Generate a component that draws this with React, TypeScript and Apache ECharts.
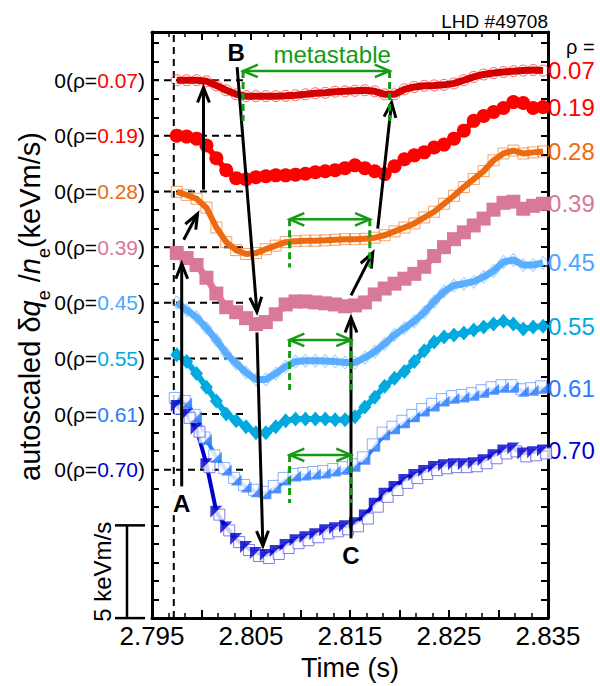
import React, { useEffect, useRef } from 'react';
import * as echarts from 'echarts';

const FONT = '"Liberation Sans", Arial, sans-serif';

// sample times (s)
const times = [2.7975, 2.7985, 2.7995, 2.8005, 2.8015, 2.8025, 2.8035, 2.8045, 2.8055, 2.8065,
  2.8075, 2.8085, 2.8095, 2.8105, 2.8115, 2.8125, 2.8135, 2.8145, 2.8155, 2.8165,
  2.8175, 2.8185, 2.8195, 2.8205, 2.8215, 2.8225, 2.8235, 2.8245, 2.8255, 2.8265,
  2.8275, 2.8285, 2.8295, 2.8305, 2.8315, 2.8325, 2.8335, 2.8345];

// autoscaled deviations (keVm/s) relative to each zero level
const dq007 = [0.0, 0.0, 0.0, -0.06, -0.28, -0.54, -0.76, -0.86, -0.86, -0.86, -0.86, -0.84, -0.81, -0.76, -0.70, -0.68, -0.62, -0.60, -0.57, -0.54, -0.60, -0.76, -0.76, -0.49, -0.36, -0.30, -0.28, -0.25, -0.17, 0.0, 0.18, 0.31, 0.39, 0.44, 0.49, 0.52, 0.55, 0.52];
const dq019 = [0.01, -0.04, -0.15, -0.52, -1.21, -1.85, -2.28, -2.34, -2.23, -2.18, -2.13, -2.13, -2.09, -2.04, -1.96, -1.91, -1.85, -1.74, -1.59, -1.74, -1.91, -2.06, -1.64, -1.26, -1.05, -0.89, -0.63, -0.47, -0.15, 0.28, 0.81, 1.07, 1.29, 1.50, 1.82, 1.77, 1.50, 1.55];
const dq028 = [-0.02, -0.18, -0.39, -0.87, -1.94, -2.73, -3.16, -3.37, -3.32, -3.11, -2.92, -2.73, -2.68, -2.65, -2.65, -2.63, -2.60, -2.57, -2.57, -2.55, -2.49, -2.36, -2.15, -1.94, -1.72, -1.40, -1.09, -0.66, -0.23, 0.24, 0.67, 1.10, 1.68, 2.05, 2.21, 2.05, 2.11, 2.16];
const dq039 = [-0.32, -0.59, -0.96, -1.65, -2.50, -3.24, -3.51, -3.83, -4.15, -4.04, -3.62, -3.09, -2.93, -2.93, -2.98, -3.03, -3.09, -3.19, -3.14, -2.98, -2.55, -2.23, -1.97, -1.70, -1.44, -1.06, -0.48, 0.00, 0.43, 0.80, 1.17, 1.54, 2.02, 2.39, 2.45, 2.07, 2.23, 2.34];
const dq045 = [0.02, -0.40, -0.78, -1.36, -2.00, -2.74, -3.27, -3.76, -4.13, -4.13, -3.81, -3.44, -3.17, -3.12, -3.12, -3.14, -3.17, -3.22, -3.22, -2.96, -2.64, -2.21, -1.73, -1.36, -0.99, -0.51, 0.07, 0.61, 0.93, 1.03, 1.14, 1.40, 1.72, 2.20, 2.31, 2.04, 2.04, 2.15];
const dq055 = [0.20, -0.17, -0.81, -1.55, -2.30, -2.99, -3.36, -3.68, -4.00, -4.00, -3.68, -3.36, -3.26, -3.26, -3.26, -3.26, -3.31, -3.31, -3.14, -2.62, -2.09, -1.50, -1.07, -0.70, -0.17, 0.41, 0.89, 1.16, 1.27, 1.37, 1.53, 1.69, 1.85, 2.01, 1.85, 1.59, 1.69, 1.74];
const dq061 = [0.76, 0.60, -0.15, -1.37, -2.33, -3.02, -3.55, -3.93, -4.19, -4.30, -3.98, -3.55, -3.34, -3.29, -3.23, -3.18, -3.07, -2.97, -2.81, -2.44, -1.74, -1.11, -0.79, -0.47, -0.15, 0.17, 0.44, 0.70, 0.86, 0.92, 1.02, 1.18, 1.34, 1.45, 1.45, 1.23, 1.29, 1.39];
const dq070 = [3.44, 2.96, 2.21, 0.30, -2.26, -3.11, -3.74, -4.17, -4.49, -4.60, -4.38, -4.06, -3.80, -3.64, -3.48, -3.27, -3.16, -3.05, -2.89, -2.47, -1.83, -1.30, -0.93, -0.55, -0.29, -0.07, 0.14, 0.24, 0.30, 0.30, 0.35, 0.51, 0.78, 1.04, 1.15, 0.88, 0.94, 1.04];

const rhoLabels = ['0.07', '0.19', '0.28', '0.39', '0.45', '0.55', '0.61', '0.70'];
const zeroLevels = [29, 26, 23, 20, 17, 14, 11, 8];
const labelColors = ['#FF0000', '#FF0000', '#EE6A10', '#D8789A', '#4DA6FF', '#00AADF', '#2B7BFF', '#0000CC'];

// annotation geometry in data units [time, autoscaled units]
const blackArrows = [
  [[2.7980, 7.1], [2.7980, 19.1]],
  [[2.7982, 20.4], [2.7996, 21.8]],
  [[2.8002, 23.1], [2.8002, 28.6]],
  [[2.8036, 29.7], [2.8056, 16.5]],
  [[2.8056, 15.4], [2.8062, 3.9]],
  [[2.8151, 4.3], [2.8151, 16.2]],
  [[2.8151, 17.4], [2.8173, 19.7]],
  [[2.8178, 21.0], [2.8192, 27.8]],
];
const greenSpans = [
  [2.8042, 2.8190, 29.5, 26.8],
  [2.8089, 2.8170, 21.5, 18.9],
  [2.8089, 2.8151, 15.0, 12.3],
  [2.8089, 2.8151, 8.8, 6.2],
];
const letterLabels = [
  ['A', 2.7980, 6.2],
  ['B', 2.8035, 30.5],
  ['C', 2.8151, 3.4],
];

const X_MIN = 2.795, X_MAX = 2.835, Y_MAX = 31.6;

function toData(vals: number[], zero: number) {
  return times.map((t, i) => [t, zero + vals[i]]);
}

function endLabel(i: number) {
  return { show: true, formatter: rhoLabels[i], color: labelColors[i], fontSize: 24, fontFamily: FONT, distance: 5 };
}

const GREEN = '#149A14';

export default function App() {
  const ref = useRef<HTMLDivElement>(null);
  useEffect(() => {
    document.body.style.margin = '0';
    const chart = echarts.init(ref.current!, null, { renderer: 'svg' });

    const richY: any = { k: { fontSize: 21, color: '#000', fontFamily: FONT } };
    labelColors.forEach((c, i) => { richY['c' + i] = { fontSize: 21, color: c, fontFamily: FONT }; });

    const xAxisBase = {
      type: 'value', min: X_MIN, max: X_MAX, interval: 0.005,
      axisLine: { show: true, onZero: false, lineStyle: { color: '#000', width: 3 } },
      axisTick: { show: true, inside: true, length: 8, lineStyle: { color: '#000', width: 2 } },
      minorTick: { show: true, splitNumber: 3, length: 5, lineStyle: { color: '#000', width: 1.5 } },
      splitLine: { show: false }, minorSplitLine: { show: false },
    };
    const yAxisBase = {
      type: 'value', min: 0, max: Y_MAX, interval: 1,
      axisLine: { show: true, onZero: false, lineStyle: { color: '#000', width: 3 } },
      axisTick: { show: true, inside: true, length: 7, lineStyle: { color: '#000', width: 2 } },
      splitLine: { show: false },
    };

    const series: any[] = [];
    // rho 0.07: open circles + thick dark red line
    series.push({ type: 'scatter', data: toData(dq007, zeroLevels[0]), symbol: 'circle', symbolSize: 11, z: 2,
      itemStyle: { color: 'rgba(255,255,255,0)', borderColor: '#FF3C3C', borderWidth: 1 } });
    series.push({ type: 'line', data: toData(dq007, zeroLevels[0]), showSymbol: false, symbol: 'none', z: 3,
      lineStyle: { color: '#D40000', width: 7 }, itemStyle: { color: '#D40000' }, endLabel: endLabel(0) });
    // rho 0.19: filled red circles
    series.push({ type: 'line', data: toData(dq019, zeroLevels[1]), symbol: 'circle', symbolSize: 14, showAllSymbol: true, z: 3,
      lineStyle: { color: '#FF0000', width: 6 }, itemStyle: { color: '#FF0000' }, endLabel: endLabel(1) });
    // rho 0.28: open orange squares + orange line
    series.push({ type: 'scatter', data: toData(dq028, zeroLevels[2]), symbol: 'rect', symbolSize: 11, z: 2,
      itemStyle: { color: 'rgba(255,255,255,0)', borderColor: '#F58A40', borderWidth: 1 } });
    series.push({ type: 'line', data: toData(dq028, zeroLevels[2]), showSymbol: false, symbol: 'none', z: 3,
      lineStyle: { color: '#EE6A10', width: 6 }, itemStyle: { color: '#EE6A10' }, endLabel: endLabel(2) });
    // rho 0.39: pink filled squares
    series.push({ type: 'line', data: toData(dq039, zeroLevels[3]), symbol: 'rect', symbolSize: 14, showAllSymbol: true, z: 3,
      lineStyle: { color: '#D8789A', width: 7 }, itemStyle: { color: '#D8789A' }, endLabel: endLabel(3) });
    // rho 0.45: open diamonds + light blue line
    series.push({ type: 'scatter', data: toData(dq045, zeroLevels[4]), symbol: 'diamond', symbolSize: [11, 13], z: 2,
      itemStyle: { color: 'rgba(255,255,255,0)', borderColor: '#86C6FF', borderWidth: 1 } });
    series.push({ type: 'line', data: toData(dq045, zeroLevels[4]), showSymbol: false, symbol: 'none', z: 3,
      lineStyle: { color: '#5AAEFF', width: 7 }, itemStyle: { color: '#5AAEFF' }, endLabel: endLabel(4) });
    // rho 0.55: cyan filled diamonds
    series.push({ type: 'line', data: toData(dq055, zeroLevels[5]), symbol: 'diamond', symbolSize: [13, 15], showAllSymbol: true, z: 3,
      lineStyle: { color: '#00AADF', width: 6 }, itemStyle: { color: '#00AADF' }, endLabel: endLabel(5) });
    // rho 0.61: open squares + lower-right filled triangles
    series.push({ type: 'line', data: toData(dq061, zeroLevels[6]), showSymbol: false, symbol: 'none', z: 2,
      lineStyle: { color: '#2B7BFF', width: 4 }, itemStyle: { color: '#2B7BFF' }, endLabel: endLabel(6) });
    series.push({ type: 'scatter', data: toData(dq061, zeroLevels[6]), symbol: 'rect', symbolSize: 11, symbolOffset: [-2, -2], z: 3,
      itemStyle: { color: '#FFFFFF', borderColor: '#6A9CFF', borderWidth: 1 } });
    series.push({ type: 'scatter', data: toData(dq061, zeroLevels[6]), symbol: 'path://M10 0 L10 10 L0 10 Z', symbolSize: 11, z: 4,
      itemStyle: { color: '#2B7BFF' } });
    // rho 0.70: open squares + upper-left filled triangles
    series.push({ type: 'line', data: toData(dq070, zeroLevels[7]), showSymbol: false, symbol: 'none', z: 2,
      lineStyle: { color: '#0000CC', width: 4 }, itemStyle: { color: '#0000CC' }, endLabel: endLabel(7) });
    series.push({ type: 'scatter', data: toData(dq070, zeroLevels[7]), symbol: 'rect', symbolSize: 11, symbolOffset: [3, 3], z: 3,
      itemStyle: { color: '#FFFFFF', borderColor: '#5C5CE8', borderWidth: 1 } });
    series.push({ type: 'scatter', data: toData(dq070, zeroLevels[7]), symbol: 'path://M0 0 L10 0 L0 10 Z', symbolSize: 12, z: 4,
      itemStyle: { color: '#0000CC' } });

    chart.setOption({
      animation: false,
      backgroundColor: '#FFFFFF',
      textStyle: { fontFamily: FONT },
      grid: { left: 152, right: 52, top: 32, bottom: 60, containLabel: false },
      xAxis: [
        { ...xAxisBase, position: 'bottom',
          axisLabel: { show: true, color: '#000', fontSize: 26, fontFamily: FONT, margin: 5,
            formatter: (v: number) => (Math.round((v - X_MIN) / 0.005) % 2 === 0 ? v.toFixed(3) : '') },
          name: 'Time (s)', nameLocation: 'middle', nameGap: 34,
          nameTextStyle: { color: '#000', fontSize: 27, fontFamily: FONT } },
        { ...xAxisBase, position: 'top', axisLabel: { show: false } },
      ],
      yAxis: [
        { ...yAxisBase, position: 'left',
          axisLabel: { show: true, margin: 7, rich: richY,
            formatter: (v: number) => {
              const idx = zeroLevels.findIndex((z) => Math.abs(z - v) < 1e-6);
              return idx < 0 ? '' : `{k|0(ρ=}{c${idx}|${rhoLabels[idx]}}{k|)}`;
            } } },
        { ...yAxisBase, position: 'right', axisLabel: { show: false } },
      ],
      series,
    });

    const P = (t: number, v: number) => chart.convertToPixel({ xAxisIndex: 0, yAxisIndex: 0 }, [t, v]) as number[];
    const g: any[] = [];

    const head = (tip: number[], from: number[], len: number, ang: number, color: string, w: number) => {
      const a = Math.atan2(tip[1] - from[1], tip[0] - from[0]);
      const p1 = [tip[0] - len * Math.cos(a - ang), tip[1] - len * Math.sin(a - ang)];
      const p2 = [tip[0] - len * Math.cos(a + ang), tip[1] - len * Math.sin(a + ang)];
      return { type: 'polyline', z: 20, shape: { points: [p1, tip, p2] }, style: { stroke: color, lineWidth: w, fill: 'none' } };
    };
    const seg = (a: number[], b: number[], color: string, w: number, dash: number[] | null, z: number) => ({
      type: 'line', z, shape: { x1: a[0], y1: a[1], x2: b[0], y2: b[1] },
      style: { stroke: color, lineWidth: w, lineDash: dash || undefined },
    });

    // zero-level dashed lines
    zeroLevels.forEach((z) => {
      g.push(seg(P(X_MIN, z), P(2.8047, z), '#000', 2, [7, 5], 1));
    });
    // vertical dashed time marker
    g.push(seg(P(2.7972, 0), P(2.7972, Y_MAX), '#000', 2, [7, 5], 1));

    // black arrows
    blackArrows.forEach(([a, b]) => {
      const pa = P(a[0], a[1]);
      const pb = P(b[0], b[1]);
      g.push(seg(pa, pb, '#000', 3, null, 20));
      g.push(head(pb, pa, 16, 0.38, '#000', 3));
    });

    // green metastable spans
    greenSpans.forEach(([t0, t1, y, yb]) => {
      const pa = P(t0, y);
      const pb = P(t1, y);
      g.push(seg(pa, pb, GREEN, 2.5, null, 21));
      g.push(head(pb, pa, 16, 0.4, GREEN, 2.5));
      g.push(head(pa, pb, 16, 0.4, GREEN, 2.5));
      g.push(seg(pa, P(t0, yb), GREEN, 3, [7, 4], 21));
      g.push(seg(pb, P(t1, yb), GREEN, 3, [7, 4], 21));
    });

    const txt = (x: number, y: number, text: string, fontSize: number, color: string, extra: any = {}, rotation = 0) => ({
      type: 'text', x, y, rotation, z: 22,
      style: { text, fill: color, fontSize, fontFamily: FONT, align: 'center', verticalAlign: 'middle',
        textAlign: 'center', textVerticalAlign: 'middle', ...extra },
    });

    letterLabels.forEach(([s, t, v]) => {
      const p = P(t as number, v as number);
      g.push(txt(p[0], p[1], s as string, 24, '#000', { fontWeight: 'bold', backgroundColor: '#FFFFFF', padding: [0, 1] }));
    });
    const pm = P(2.8132, 30.4);
    g.push(txt(pm[0], pm[1], 'metastable', 24, GREEN));

    // header texts
    const pTopRight = P(X_MAX, Y_MAX);
    g.push(txt(pTopRight[0], pTopRight[1] - 11, 'LHD #49708', 19, '#000', { align: 'right', textAlign: 'right' }));
    const pRho = P(X_MAX, 30.8);
    g.push(txt(pRho[0] + 18, pRho[1], 'ρ =', 20, '#000', { align: 'left', textAlign: 'left' }));

    // 5 keVm/s scale bar
    const s0 = P(X_MIN, 0);
    const s1 = P(X_MIN, 5);
    const bx = s0[0] - 25;
    g.push(seg([bx, s0[1]], [bx, s1[1]], '#000', 2.5, null, 20));
    g.push(seg([bx - 12, s1[1]], [bx + 18, s1[1]], '#000', 2.5, null, 20));
    g.push(seg([bx - 12, s0[1]], [bx + 18, s0[1]], '#000', 2.5, null, 20));
    g.push(txt(bx - 25, (s0[1] + s1[1]) / 2, '5 keVm/s', 24, '#000', {}, Math.PI / 2));

    // y-axis title
    const pt = P(X_MIN, 16.8);
    g.push({
      type: 'text', x: 30, y: pt[1], rotation: Math.PI / 2, z: 22,
      style: {
        text: '{a|autoscaled δ}{i|q}{s|e}{a| /}{i|n}{s|e}{a|(keVm/s)}',
        align: 'center', verticalAlign: 'middle', textAlign: 'center', textVerticalAlign: 'middle',
        fill: '#000',
        rich: {
          a: { fontSize: 29, fontFamily: FONT, lineHeight: 46, fill: '#000' },
          i: { fontSize: 29, fontFamily: FONT, fontStyle: 'italic', lineHeight: 46, fill: '#000' },
          s: { fontSize: 18, fontFamily: FONT, lineHeight: 17, verticalAlign: 'bottom', fill: '#000' },
        },
      },
    });

    chart.setOption({ graphic: g });
    return () => chart.dispose();
  }, []);
  return <div ref={ref} style={{ position: 'absolute', left: 0, top: 0, width: 600, height: 686 }} />;
}
